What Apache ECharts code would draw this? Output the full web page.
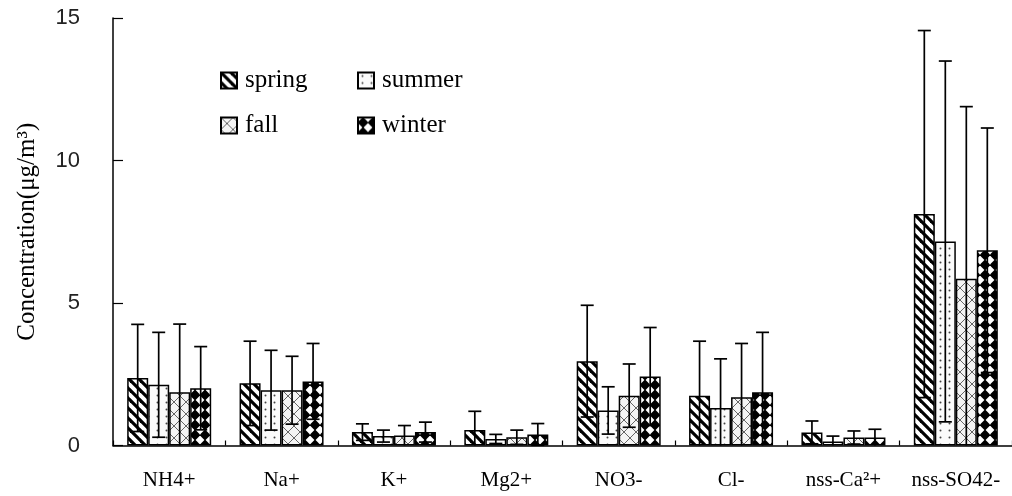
<!DOCTYPE html>
<html>
<head>
<meta charset="utf-8">
<script src="https://cdn.jsdelivr.net/npm/echarts@6/dist/echarts.min.js"></script>
<style>
html,body{margin:0;padding:0;background:#fff;}
#chart{width:1012px;height:496px;}
</style>
</head>
<body>
<div id="chart"></div>
<script>
// ---- data ----
const categories = ['NH4+', 'Na+', 'K+', 'Mg2+', 'NO3-', 'Cl-', 'nss-Ca²+', 'nss-SO42-'];
const seasons = ['spring', 'summer', 'fall', 'winter'];
const springMean = [2.37, 2.18, 0.47, 0.54, 2.96, 1.75, 0.46, 8.12];
const springSD   = [1.88, 1.48, 0.29, 0.66, 1.96, 1.91, 0.40, 6.44];
const summerMean = [2.13, 1.94, 0.33, 0.23, 1.23, 1.32, 0.14, 7.16];
const summerSD   = [1.84, 1.40, 0.21, 0.16, 0.83, 1.72, 0.19, 6.33];
const fallMean   = [1.87, 1.94, 0.35, 0.29, 1.75, 1.69, 0.28, 5.85];
const fallSD     = [2.39, 1.19, 0.35, 0.25, 1.11, 1.89, 0.23, 6.04];
const winterMean = [2.01, 2.25, 0.47, 0.39, 2.42, 1.87, 0.28, 6.85];
const winterSD   = [1.46, 1.33, 0.35, 0.38, 1.72, 2.10, 0.29, 4.29];
const yTicks = [0, 5, 10, 15];

const means = [springMean, summerMean, fallMean, winterMean];
const sds = [springSD, summerSD, fallSD, winterSD];

// ---- patterns ----
function makeTile(w, h, draw) {
  const c = document.createElement('canvas');
  c.width = w; c.height = h;
  const ctx = c.getContext('2d');
  draw(ctx, w, h);
  return { image: c, repeat: 'repeat' };
}
const springPat = makeTile(10, 10, (ctx, w, h) => {
  ctx.fillStyle = '#fff'; ctx.fillRect(0, 0, w, h);
  ctx.strokeStyle = '#000'; ctx.lineWidth = 3.2;
  for (const o of [-10, 0, 10]) {
    ctx.beginPath(); ctx.moveTo(o - 2, -2); ctx.lineTo(o + 12, 12); ctx.stroke();
  }
});
const summerPat = makeTile(9, 7, (ctx, w, h) => {
  ctx.fillStyle = '#fbfbfb'; ctx.fillRect(0, 0, w, h);
  ctx.fillStyle = '#444';
  ctx.beginPath(); ctx.arc(4.5, 3.5, 1, 0, Math.PI * 2); ctx.fill();
});
const fallPat = makeTile(12, 12, (ctx, w, h) => {
  ctx.fillStyle = '#f4f4f4'; ctx.fillRect(0, 0, w, h);
  ctx.strokeStyle = '#555'; ctx.lineWidth = 0.9;
  ctx.beginPath(); ctx.moveTo(0, 0); ctx.lineTo(12, 12); ctx.stroke();
  ctx.beginPath(); ctx.moveTo(12, 0); ctx.lineTo(0, 12); ctx.stroke();
});
const winterPat = makeTile(10, 10, (ctx, w, h) => {
  ctx.fillStyle = '#fff'; ctx.fillRect(0, 0, w, h);
  ctx.fillStyle = '#000';
  const r = 5.6;
  ctx.beginPath();
  ctx.moveTo(5, 5 - r); ctx.lineTo(5 + r, 5); ctx.lineTo(5, 5 + r); ctx.lineTo(5 - r, 5);
  ctx.closePath(); ctx.fill();
});
const patterns = [springPat, summerPat, fallPat, winterPat];

const serif = '"Liberation Serif", "Times New Roman", serif';
const sans = '"Liberation Sans", Arial, sans-serif';
const BAR_W = 21;

const barSeries = seasons.map((s, i) => ({
  name: s,
  type: 'bar',
  data: means[i],
  barWidth: BAR_W,
  barGap: '0%',
  itemStyle: { color: patterns[i], borderColor: '#000', borderWidth: 1.5 },
  emphasis: { disabled: true },
  z: 2
}));

const errSeries = seasons.map((s, i) => ({
  type: 'custom',
  name: s + '-err',
  z: 5,
  silent: true,
  data: categories.map((c, k) => [k, means[i][k], sds[i][k]]),
  renderItem: function (params, api) {
    const k = api.value(0), m = api.value(1), sd = api.value(2);
    const x = api.coord([k, 0])[0] + (i - 1.5) * BAR_W;
    const yTop = api.coord([k, m + sd])[1];
    const lowVal = m - sd;
    const yBot = api.coord([k, Math.max(0, lowVal)])[1];
    const half = 6.5;
    const st = { stroke: '#000', lineWidth: 1.7 };
    const children = [
      { type: 'line', shape: { x1: x, y1: yTop, x2: x, y2: yBot }, style: st },
      { type: 'line', shape: { x1: x - half, y1: yTop, x2: x + half, y2: yTop }, style: st }
    ];
    if (lowVal > 0) {
      children.push({ type: 'line', shape: { x1: x - half, y1: yBot, x2: x + half, y2: yBot }, style: st });
    }
    return { type: 'group', children: children };
  }
}));

const legendPos = [
  { left: 220, top: 68 },
  { left: 357, top: 68 },
  { left: 220, top: 113 },
  { left: 357, top: 113 }
];
const legends = seasons.map((s, i) => ({
  data: [{ name: s, icon: 'rect' }],
  left: legendPos[i].left,
  top: legendPos[i].top,
  padding: 0,
  itemWidth: 16,
  itemHeight: 16,
  itemGap: 0,
  selectedMode: false,
  textStyle: { fontFamily: serif, fontSize: 25, color: '#000', padding: [0, 0, 0, 3] }
}));

const chart = echarts.init(document.getElementById('chart'), null, { renderer: 'canvas' });
chart.setOption({
  animation: false,
  backgroundColor: '#fff',
  legend: legends,
  grid: { left: 113, right: -2, top: 18, bottom: 50.5, containLabel: false },
  xAxis: {
    type: 'category',
    data: categories,
    axisLine: { show: true, lineStyle: { color: '#000', width: 1.5 } },
    axisTick: { show: true, inside: true, length: 5, lineStyle: { color: '#000', width: 1.2 } },
    axisLabel: { fontFamily: serif, fontSize: 21, color: '#000', margin: 24, interval: 0 },
    splitLine: { show: false }
  },
  yAxis: {
    type: 'value',
    min: 0, max: 15, interval: 5,
    name: 'Concentration(μg/m³)',
    nameLocation: 'middle',
    nameGap: 73,
    nameTextStyle: { fontFamily: serif, fontSize: 25, color: '#000' },
    axisLine: { show: true, lineStyle: { color: '#000', width: 1.5 } },
    axisTick: { show: true, inside: true, length: 10, lineStyle: { color: '#000', width: 1.2 } },
    axisLabel: {
      fontFamily: sans, fontSize: 22, color: '#222', margin: 33,
      formatter: function (v) { return yTicks.indexOf(v) >= 0 ? String(v) : ''; }
    },
    splitLine: { show: false }
  },
  series: barSeries.concat(errSeries)
});
</script>
</body>
</html>
